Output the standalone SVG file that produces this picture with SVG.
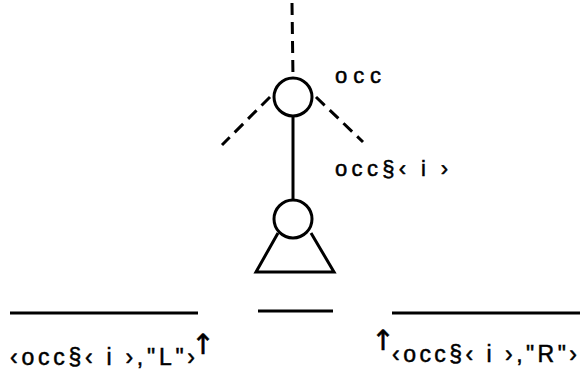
<svg xmlns="http://www.w3.org/2000/svg" width="583" height="381" viewBox="0 0 583 381">
<style>
.s{fill:none;stroke:#000;stroke-width:3;stroke-linecap:butt}
.d{fill:none;stroke:#000;stroke-width:3;stroke-dasharray:12 7}
.t{font-family:"Liberation Sans",Arial,sans-serif;fill:#000;stroke:#000;stroke-width:0.5}
.a{font-family:"DejaVu Sans",sans-serif;fill:#000;stroke:#000;stroke-width:0.6;text-anchor:middle}
</style>
<rect width="583" height="381" fill="#fff"/>
<g id="connectors">
<line class="d" x1="292" y1="3" x2="293" y2="78"/>
<line class="d" x1="270" y1="97" x2="222" y2="145"/>
<line class="d" x1="316" y1="97" x2="363" y2="142"/>
<line class="s" x1="293" y1="117" x2="293" y2="199"/>
</g>
<g id="node-occ">
<circle class="s" cx="293" cy="97" r="19"/>
<text class="t" x="335" y="83" font-size="22" textLength="46" lengthAdjust="spacing">occ</text>
</g>
<g id="node-child">
<circle class="s" cx="293" cy="219" r="19"/>
<path class="s" d="M278,233 L256,272 L334,272 L311,233"/>
<text class="t" x="335" y="176" font-size="22" textLength="113" lengthAdjust="spacing">occ§‹ i ›</text>
</g>
<g id="strings">
<line class="s" x1="10" y1="313" x2="198" y2="313"/>
<line class="s" x1="258" y1="311" x2="333" y2="311"/>
<line class="s" x1="392" y1="313" x2="580" y2="313"/>
<text class="t" x="10" y="365" font-size="23" textLength="185" lengthAdjust="spacing">‹occ§‹ i ›,"L"›</text>
<text class="a" x="203" y="354" font-size="28">↑</text>
<text class="t" x="392" y="362" font-size="23" textLength="185" lengthAdjust="spacing">‹occ§‹ i ›,"R"›</text>
<text class="a" x="383" y="350" font-size="28">↑</text>
</g>
</svg>
